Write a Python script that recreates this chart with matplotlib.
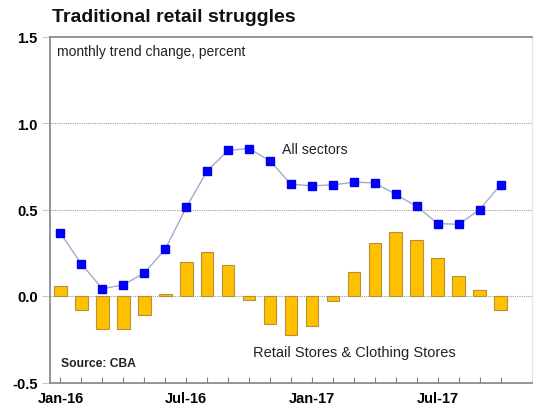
import matplotlib
matplotlib.use("Agg")
import matplotlib.pyplot as plt
import numpy as np

plt.rcParams['font.family'] = ['Liberation Sans', 'DejaVu Sans']

months = ["Jan-16", "Feb-16", "Mar-16", "Apr-16", "May-16", "Jun-16",
          "Jul-16", "Aug-16", "Sep-16", "Oct-16", "Nov-16", "Dec-16",
          "Jan-17", "Feb-17", "Mar-17", "Apr-17", "May-17", "Jun-17",
          "Jul-17", "Aug-17", "Sep-17", "Oct-17"]
all_sectors = [0.363, 0.185, 0.042, 0.065, 0.133, 0.271, 0.512, 0.723,
               0.842, 0.852, 0.781, 0.646, 0.637, 0.642, 0.658, 0.654,
               0.587, 0.518, 0.419, 0.414, 0.500, 0.642]
retail_clothing = [0.060, -0.080, -0.190, -0.190, -0.110, 0.011, 0.198, 0.254,
                   0.177, -0.021, -0.160, -0.227, -0.173, -0.030, 0.140, 0.308,
                   0.369, 0.325, 0.219, 0.114, 0.033, -0.080]
label_months = ["Jan-16", "Jul-16", "Jan-17", "Jul-17"]
y_ticks = [-0.5, 0.0, 0.5, 1.0, 1.5]

W, H = 534, 406
fig = plt.figure(figsize=(W / 100, H / 100), dpi=100)
left, right, top, bottom = 50, 532, 37.5, 383.5
ax = fig.add_axes([left / W, 1 - bottom / H, (right - left) / W, (bottom - top) / H])

x = np.arange(len(months))
ax.bar(x, retail_clothing, width=0.6, color="#FFC000", edgecolor="#B8903A",
       linewidth=0.8, zorder=2)
ax.plot(x, all_sectors, color="#A8A8CC", linewidth=1.0, zorder=3)
ax.plot(x, all_sectors, linestyle="none", marker="s", markersize=5.2,
        markerfacecolor="#0000FF", markeredgecolor="#0000EE", zorder=4)

ax.set_xlim(-0.5, 22.5)
ax.set_ylim(-0.5, 1.5)

for yv in [0.0, 0.5, 1.0]:
    ax.axhline(yv, color="#A0A0A0", linestyle=(0, (1, 1)), linewidth=0.8, zorder=1)

ax.set_yticks(y_ticks)
ax.set_yticklabels([f"{v:.1f}" for v in y_ticks], fontsize=10.5, fontweight="bold")
ax.tick_params(axis="y", direction="out", length=6, width=0.8, color="#C8C8C8", pad=3)

ax.set_xticks(x, minor=True)
ax.tick_params(axis="x", which="minor", direction="in", length=4, width=0.8, color="#808080")
major_pos = [months.index(m) for m in label_months]
ax.set_xticks(major_pos)
ax.set_xticklabels(label_months, fontsize=10.5, fontweight="bold")
ax.tick_params(axis="x", which="major", direction="in", length=4, width=0.8,
               color="#808080", pad=6)

for side in ["left", "bottom", "top"]:
    ax.spines[side].set_color("#8C8C8C")
    ax.spines[side].set_linewidth(1.3)
ax.spines["right"].set_color("#E4E4E4")
ax.spines["right"].set_linewidth(0.8)

fig.text(52 / W, 1 - 18 / H, "Traditional retail struggles", fontsize=14,
         fontweight="bold", ha="left", va="center", color="#111111")
fig.text(57 / W, 1 - 52 / H, "monthly trend change, percent", fontsize=10,
         ha="left", va="center", color="#222222")
fig.text(282 / W, 1 - 150 / H, "All sectors", fontsize=10.2, ha="left", va="center",
         color="#222222")
fig.text(253 / W, 1 - 353 / H, "Retail Stores & Clothing Stores", fontsize=10.5,
         ha="left", va="center", color="#222222")
fig.text(61 / W, 1 - 364 / H, "Source: CBA", fontsize=8.7, fontweight="bold",
         ha="left", va="center", color="#222222")

fig.savefig("out.png", dpi=100)
